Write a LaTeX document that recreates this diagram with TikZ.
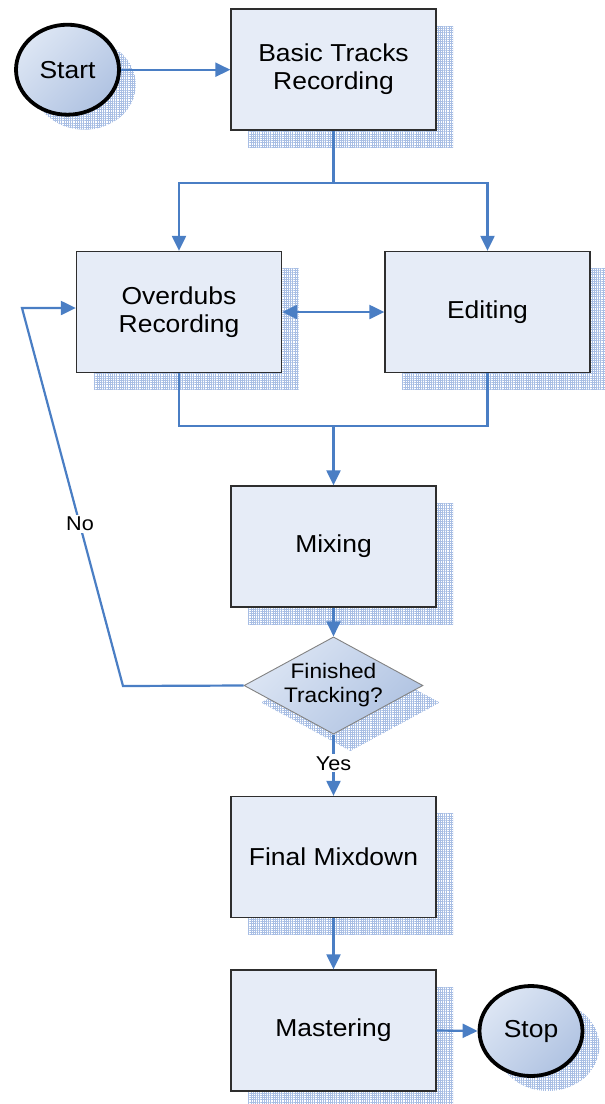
\documentclass[tikz,border=0pt]{standalone}
\usepackage{fontspec}
\setmainfont{Liberation Sans}[FakeStretch=1.08]
\usetikzlibrary{shapes.geometric,arrows.meta,patterns.meta,shadows}

\definecolor{flow}{HTML}{4A7EC4}
\definecolor{boxfill}{HTML}{E6ECF7}
\definecolor{boxline}{HTML}{2E2E2E}
\definecolor{hatch}{HTML}{A8BEE4}
\definecolor{lite}{HTML}{DDE6F4}
\definecolor{dark}{HTML}{B0C3E2}

\tikzset{
  dropshade/.style={general shadow={shadow xshift=17pt, shadow yshift=-17pt,
      fill=hatch!40!white, pattern={Hatch[angle=0,distance=2.2pt,line width=0.5pt]},
      pattern color=hatch}},
  ovalshade/.style={general shadow={shadow xshift=17pt, shadow yshift=-15pt,
      fill=hatch!40!white, pattern={Hatch[angle=0,distance=2.2pt,line width=0.5pt]},
      pattern color=hatch}},
  stepbox/.style={draw=boxline, line width=1.3pt, fill=boxfill, rectangle,
      minimum width=205pt, minimum height=121pt, inner sep=0pt, align=center,
      font=\fontsize{24.5}{28}\selectfont, dropshade},
  terminal/.style={draw=black, line width=3.8pt, ellipse, minimum width=103pt,
      minimum height=90pt, inner sep=0pt, top color=lite, bottom color=dark,
      shading angle=45, font=\fontsize{24.5}{28}\selectfont, ovalshade},
  decision/.style={draw=boxline!60, line width=0.9pt, diamond, aspect=1.84,
      minimum width=175pt, minimum height=95pt, inner sep=0pt, align=center,
      top color=lite, bottom color=dark, shading angle=45,
      font=\fontsize{21}{24}\selectfont, dropshade},
  tip/.tip={Triangle[length=15pt,width=14pt]},
  link/.style={draw=flow, line width=2.2pt, -tip},
  plainlink/.style={draw=flow, line width=2.2pt},
  tag/.style={fill=white, inner sep=2pt, font=\fontsize{20}{23}\selectfont}
}

\begin{document}
\begin{tikzpicture}[x=1pt,y=-1pt]
  \useasboundingbox (0,0) rectangle (605,1104);

  % process boxes
  \node[stepbox] (basic) at (333.5,69.5)  {Basic Tracks\\Recording};
  \node[stepbox] (over)  at (179,312)     {Overdubs\\Recording};
  \node[stepbox] (edit)  at (487.5,312)   {Editing};
  \node[stepbox] (mix)   at (333.5,546.5) {Mixing};
  \node[stepbox] (final) at (333.5,857)   {Final Mixdown};
  \node[stepbox] (mast)  at (333.5,1030.5){Mastering};

  % decision
  \node[decision] (done) at (333.5,685.5) {Finished\\Tracking?};

  % terminals
  \node[terminal] (start) at (67.5,69.7) {Start};
  \node[terminal] (stop)  at (531,1031)  {Stop};

  % routing points
  \coordinate (split) at (333.5,183);
  \coordinate (join)  at (333.5,426);
  \coordinate (ret)   at (123,686);
  \coordinate (up)    at (22,308);

  % connectors
  \draw[link] (start.east) -- (basic.west |- start.east);
  \draw[plainlink] (basic.south) -- (split);
  \draw[link] (split) -| (over.north);
  \draw[link] (split) -| (edit.north);
  \draw[plainlink, tip-tip] (over.east) -- (edit.west);
  \draw[plainlink] (over.south) |- (join) -| (edit.south);
  \draw[link] (join) -- (mix.north);
  \draw[link] (mix.south) -- (done.north);
  \draw[link] (done.west) -- (ret) -- (up) -- (over.west |- up);
  \node[tag] (no) at (80,524) {No};
  \draw[link] (done.south) -- node[tag, pos=0.47] (yes) {Yes} (final.north);
  \draw[link] (final.south) -- (mast.north);
  \draw[link] (mast.east) -- (stop.west);
\end{tikzpicture}
\end{document}
